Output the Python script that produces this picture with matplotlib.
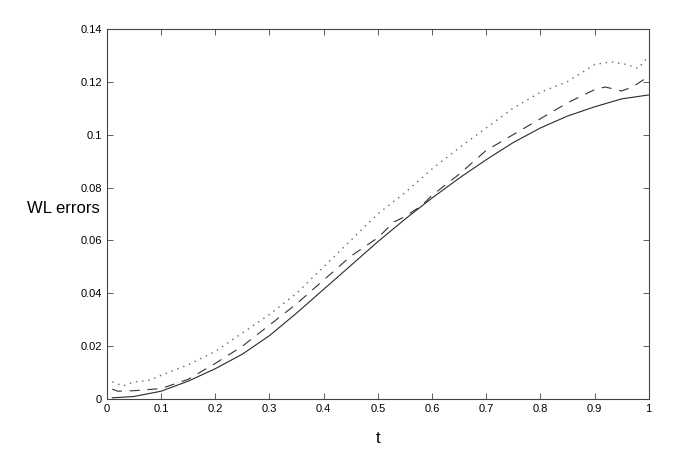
import numpy as np
import matplotlib
matplotlib.use("Agg")
import matplotlib.pyplot as plt

plt.rcParams['font.family'] = ['Liberation Sans', 'DejaVu Sans']

# solid curve
t_solid = [0.01, 0.05, 0.1, 0.15, 0.2, 0.25, 0.3, 0.35, 0.4, 0.45, 0.5,
           0.55, 0.6, 0.65, 0.7, 0.75, 0.8, 0.85, 0.9, 0.95, 1.0]
err_solid = [0.0005, 0.001, 0.003, 0.0068, 0.0115, 0.017, 0.024, 0.0325, 0.0415,
             0.0505, 0.0595, 0.068, 0.076, 0.0835, 0.0905, 0.097, 0.1025, 0.107,
             0.1105, 0.1135, 0.115]

# dashed curve
t_dash = [0.01, 0.02, 0.05, 0.1, 0.15, 0.2, 0.25, 0.3, 0.35, 0.4, 0.45, 0.5,
          0.53, 0.55, 0.58, 0.6, 0.65, 0.7, 0.75, 0.8, 0.85, 0.9, 0.92, 0.95,
          0.97, 1.0]
err_dash = [0.0038, 0.003, 0.0032, 0.004, 0.0075, 0.0135, 0.02, 0.028, 0.036,
            0.045, 0.054, 0.061, 0.067, 0.069, 0.073, 0.077, 0.085, 0.094, 0.1,
            0.106, 0.112, 0.117, 0.118, 0.1165, 0.118, 0.122]

# dotted curve
t_dot = [0.01, 0.03, 0.05, 0.08, 0.1, 0.15, 0.2, 0.25, 0.3, 0.35, 0.4, 0.45,
         0.5, 0.55, 0.6, 0.65, 0.7, 0.75, 0.8, 0.85, 0.9, 0.93, 0.96, 0.98, 1.0]
err_dot = [0.0065, 0.005, 0.0065, 0.0072, 0.009, 0.013, 0.018, 0.025, 0.032,
           0.04, 0.05, 0.06, 0.07, 0.078, 0.087, 0.095, 0.1025, 0.11, 0.116,
           0.12, 0.1265, 0.1275, 0.1265, 0.125, 0.1295]

xticks = [0, 0.1, 0.2, 0.3, 0.4, 0.5, 0.6, 0.7, 0.8, 0.9, 1]
xlabels = ["0", "0.1", "0.2", "0.3", "0.4", "0.5", "0.6", "0.7", "0.8", "0.9", "1"]
yticks = [0, 0.02, 0.04, 0.06, 0.08, 0.1, 0.12, 0.14]
ylabels = ["0", "0.02", "0.04", "0.06", "0.08", "0.1", "0.12", "0.14"]

fig = plt.figure(figsize=(6.85, 4.5), dpi=100)
ax = fig.add_axes([0.156, 0.113, 0.791, 0.823])

ax.plot(t_solid, err_solid, '-', color='#2a2a2a', lw=0.8)
ax.plot(t_dash, err_dash, color='#333333', lw=0.8, linestyle=(0, (9, 7)))
ax.plot(t_dot, err_dot, color='#666666', lw=1.0, linestyle=(0, (1, 3.5)))

ax.set_xlim(0, 1)
ax.set_ylim(0, 0.14)
ax.set_xticks(xticks)
ax.set_xticklabels(xlabels)
ax.set_yticks(yticks)
ax.set_yticklabels(ylabels)
ax.tick_params(direction='in', top=True, right=True, labelsize=8, length=4,
               width=0.6, color='#444444')
for s in ax.spines.values():
    s.set_linewidth(0.8)
    s.set_color('#444444')

ax.set_xlabel("t", fontsize=12, labelpad=12)
ax.set_ylabel("WL errors", fontsize=12, rotation=0, ha='right', va='center')
ax.yaxis.set_label_coords(-0.013, 0.516)

fig.savefig("out.png", dpi=100)
